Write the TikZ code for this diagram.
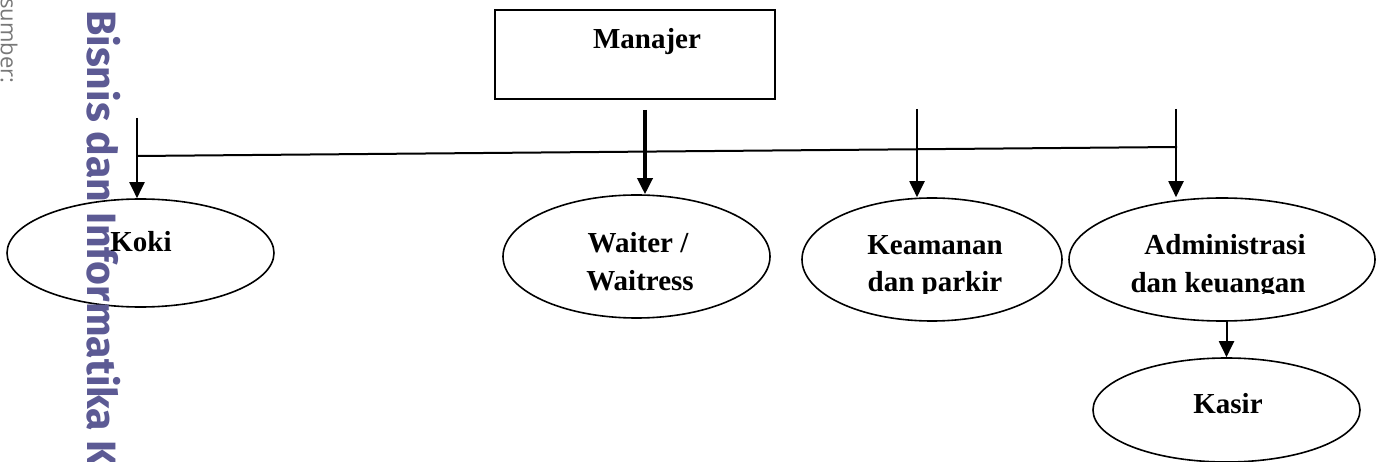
\documentclass[tikz,border=0pt]{standalone}
\usepackage{fontspec}
\setmainfont{Liberation Serif}
\newfontfamily\wmfont{Fira Sans}
\newfontfamily\srcfont{Open Sans}
\usetikzlibrary{shapes.geometric,arrows.meta}
\definecolor{wmcol}{RGB}{92,90,148}
\definecolor{srccol}{RGB}{120,120,120}
\tikzset{
 conn/.style={line width=2pt},
 arr/.style={conn,-{Triangle[length=16pt,width=15pt]}},
 oval/.style={draw,ellipse,line width=1.6pt,inner sep=0pt},
 lbl/.style={font=\fontsize{29}{38}\selectfont\bfseries,inner sep=0pt},
 orgbox/.style={draw,rectangle,line width=2pt,inner sep=0pt},
}
\begin{document}
\begin{tikzpicture}[x=1pt,y=-1pt]
\useasboundingbox (0,0) rectangle (1382,462);
% boxes and ovals
\node[orgbox, minimum width=280pt, minimum height=89pt] (man) at (635,54.5) {};
\node[oval, minimum width=267pt, minimum height=108pt] (koki) at (140.5,253) {};
\node[oval, minimum width=267pt, minimum height=123pt] (wait) at (636.5,256.5) {};
\node[oval, minimum width=260pt, minimum height=123pt] (keam) at (932,259.5) {};
\node[oval, minimum width=306pt, minimum height=123pt] (adm) at (1222,259.5) {};
\node[oval, minimum width=267pt, minimum height=104pt] (kas) at (1226.5,410) {};
% connectors
\coordinate (hl) at (137,156);
\coordinate (hr) at (1177,147);
\coordinate (s1) at (137,118);
\coordinate (s2) at (645,110);
\coordinate (s3) at (917,109);
\coordinate (s4) at (1176,109);
\draw[conn] (hl) -- (hr);
\draw[arr] (s1) -- (s1 |- koki.north);
\draw[arr, line width=3.5pt] (s2) -- (s2 |- wait.north);
\draw[arr] (s3) -- (s3 |- keam.north);
\draw[arr] (s4) -- (s4 |- adm.north);
\draw[arr] (adm.south -| kas.north) -- (kas.north);
% margin texts
\node[rotate=-90, anchor=base west, text=wmcol, inner sep=0pt,
      font=\wmfont\bfseries\fontsize{41}{41}\selectfont] (wm) at (87,10) {Bisnis dan Informatika K};
\node[rotate=-90, anchor=base west, text=srccol, inner sep=0pt,
      font=\srcfont\fontsize{22}{22}\selectfont] (src) at (1,-2) {sumber:};
% labels
\node[lbl, anchor=base] (mant) at (647,49) {Manajer};
\node[lbl, anchor=base] (kokit) at (141,252) {Koki};
\node[lbl, anchor=base] (w1) at (638,253) {Waiter /};
\node[lbl, anchor=base] (w2) at (640,291) {Waitress};
\node[lbl, anchor=base] (kt) at (1228,413) {Kasir};
\begin{scope}
\clip (780,200) rectangle (1382,294);
\node[lbl, anchor=base] (k1) at (935,255) {Keamanan};
\node[lbl, anchor=base] (k2) at (935,292) {dan parkir};
\node[lbl, anchor=base] (a1) at (1225,255) {Administrasi};
\node[lbl, anchor=base] (a2) at (1218,293) {dan keuangan};
\end{scope}
\end{tikzpicture}
\end{document}
